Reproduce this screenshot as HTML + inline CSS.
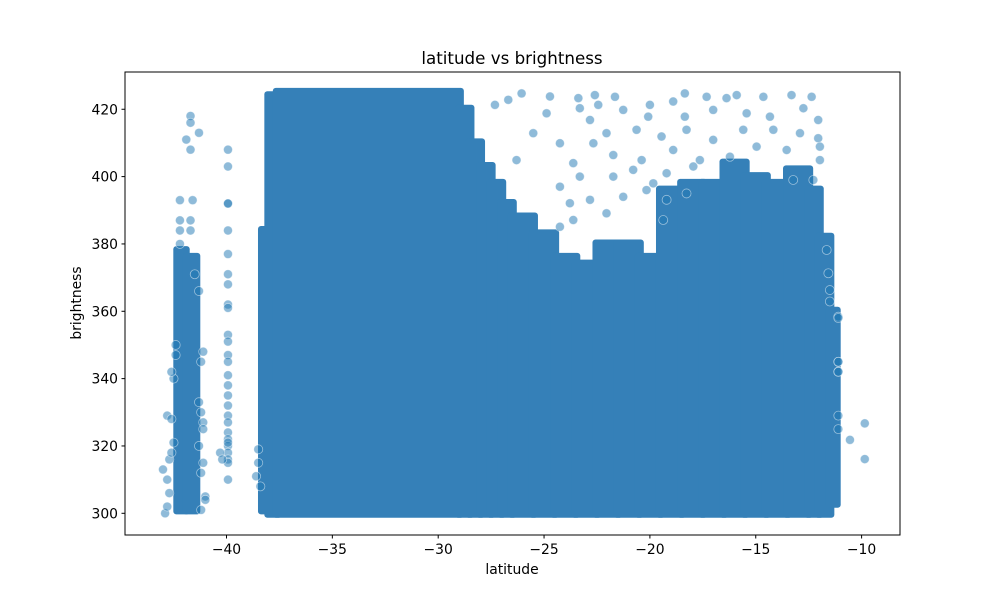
<!DOCTYPE html>
<html><head><meta charset="utf-8"><style>
body{margin:0;background:#fff;}
svg text{font-family:"DejaVu Sans","Liberation Sans",sans-serif;fill:#000;}
</style></head><body>
<svg id="chart" width="1000" height="600" viewBox="0 0 1000 600">
<rect width="1000" height="600" fill="#fff"/>
<text x="512" y="64" font-size="16.7" text-anchor="middle">latitude vs brightness</text>
<g id="dense"></g>
<g id="pts"></g>
<rect x="125" y="72" width="775" height="463" fill="none" stroke="#000" stroke-width="1"/>
<g id="xt"></g>
<g id="yt"></g>
<text x="512" y="574" font-size="13.9" text-anchor="middle">latitude</text>
<text transform="translate(81,303) rotate(-90)" font-size="13.9" text-anchor="middle">brightness</text>
</svg>
<script>
const xTicks=[-40,-35,-30,-25,-20,-15,-10];
const yTicks=[300,320,340,360,380,400,420];
// dense bands: latitude start, end, top brightness, bottom brightness
const denseLatStart=[-42.3,-41.85,-38.3,-38.0,-37.6,-29.0,-28.5,-28.0,-27.5,-27.0,-26.5,-25.5,-24.5,-23.5,-22.5,-21.5,-20.5,-19.5,-18.5,-17.5,-16.5,-15.5,-14.5,-13.5,-12.5,-12.0,-11.5];
const denseLatEnd=[-41.95,-41.45,-38.0,-37.6,-29.0,-28.5,-28.0,-27.5,-27.0,-26.5,-25.5,-24.5,-23.5,-22.5,-21.5,-20.5,-19.5,-18.5,-17.5,-16.5,-15.5,-14.5,-13.5,-12.5,-12.0,-11.5,-11.2];
const denseTop=[378,376,384,424,425,420,410,403,398,392,388,383,376,374,380,380,376,396,398,398,404,400,398,402,396,382,360];
const denseBottom=[301,301,301,300,300,300,300,300,300,300,300,300,300,300,300,300,300,300,300,300,300,300,300,300,300,300,303];
// sparse points
const ptLat=[-42.2,-42.2,-42.2,-42.2,-41.7,-41.7,-41.7,-41.6,-41.7,-41.7,-41.9,-41.3,-41.5,-41.3,
-43.0,-42.8,-42.6,-42.5,-42.6,-42.7,-42.8,-42.7,-42.9,-42.8,-42.5,-42.4,-42.4,-42.6,
-41.2,-41.1,-41.1,-41.3,-41.2,-41.1,-41.0,-41.2,-41.3,-41.1,-41.2,-41.0,
-39.93,-39.93,-39.93,-39.93,-39.93,-39.93,-39.93,-39.93,-39.93,-39.93,-39.93,-39.93,-39.93,-39.93,-39.93,-39.93,-39.93,-39.93,-39.93,-39.93,-39.93,-39.93,-39.93,-39.93,-39.93,-39.93,-39.93,-39.93,-40.3,-40.2,
-38.5,-38.6,-38.4,-38.5,
-26.06,-26.69,-24.72,-23.38,-22.60,-21.65,-20.00,-18.90,-18.35,-17.32,-16.38,-15.90,-14.64,-13.31,-12.36,-27.32,-24.88,-23.31,-22.44,-21.26,-20.08,-18.35,-17.01,-15.43,-14.33,-12.75,-25.51,-24.25,-22.83,-22.05,-20.63,-19.45,-18.27,-17.01,-15.59,-14.17,-12.91,-12.05,-12.05,-26.30,-23.62,-22.67,-21.73,-20.39,-18.90,-17.64,-16.22,-14.96,-13.54,-11.97,-11.97,-24.25,-23.31,-21.73,-20.79,-19.84,-19.21,-17.95,-13.23,-12.28,-23.78,-22.83,-21.26,-20.16,-19.21,-18.27,-11.65,-11.57,-11.10,-11.10,-11.10,-11.50,-11.50,-24.25,-22.05,-23.62,-19.37,
-11.1,-11.1,-11.1,-11.1,-11.1,-10.55,-9.85,-9.85];
const ptBri=[393,387,384,380,418,416,408,393,387,384,411,413,371,366,
313,329,328,340,342,316,310,306,300,302,321,347,350,318,
330,327,325,333,345,348,305,312,320,315,301,304,
408,403,392,392,384,377,371,368,362,361,353,351,347,345,341,338,335,332,329,327,324,322,320,318,316,315,310,321,318,316,
315,311,308,319,
424.7,422.8,423.8,423.3,424.2,423.7,421.3,422.3,424.7,423.7,423.3,424.2,423.7,424.2,423.7,421.3,418.8,420.3,421.3,419.8,417.8,417.8,419.8,418.8,417.8,420.3,412.9,409.9,416.8,412.9,413.9,411.9,413.9,410.9,413.9,413.9,412.9,416.8,411.4,404.9,404.0,409.9,406.4,404.9,407.9,404.9,405.9,408.9,407.9,404.9,408.9,397.0,400.0,400.0,402.0,398.0,401.0,403.0,399.0,399.0,392.1,393.1,394.0,396.0,393.1,395.0,378.2,371.3,358.4,345.0,342.1,366.3,362.9,385.1,389.1,387.1,387.1,
358,345,342,329,325,321.8,326.7,316.1];

const NS='http://www.w3.org/2000/svg';
const X=v=>226.5+(v+40)*21.17;
const Y=v=>513.3-(v-300)*3.367;
const R=4.5;
const dg=document.getElementById('dense');
for(let i=0;i<denseLatStart.length;i++){
  const r=document.createElementNS(NS,'rect');
  const x0=X(denseLatStart[i])-R,x1=X(denseLatEnd[i])+R,y0=Y(denseTop[i])-R,y1=Y(denseBottom[i])+R;
  r.setAttribute('x',x0);r.setAttribute('y',y0);r.setAttribute('width',x1-x0);r.setAttribute('height',y1-y0);
  r.setAttribute('rx',3);r.setAttribute('fill','#3580b8');
  
  
  dg.appendChild(r);
}
const pg=document.getElementById('pts');
for(let i=0;i<ptLat.length;i++){
  const c=document.createElementNS(NS,'circle');
  c.setAttribute('cx',X(ptLat[i]));c.setAttribute('cy',Y(ptBri[i]));c.setAttribute('r',R);
  c.setAttribute('fill','rgba(31,119,180,0.5)');c.setAttribute('stroke','rgba(255,255,255,0.5)');c.setAttribute('stroke-width','0.8');
  
  
  pg.appendChild(c);
}
const xg=document.getElementById('xt');
xTicks.forEach(t=>{
  const l=document.createElementNS(NS,'line');
  l.setAttribute('x1',X(t));l.setAttribute('x2',X(t));l.setAttribute('y1',535);l.setAttribute('y2',538.5);l.setAttribute('stroke','#000');
  
  
  xg.appendChild(l);
  const tx=document.createElementNS(NS,'text');
  tx.setAttribute('x',X(t));tx.setAttribute('y',554);tx.setAttribute('font-size','13.9');tx.setAttribute('text-anchor','middle');
  tx.textContent=String(t).replace('-','\u2212');
  
  
  xg.appendChild(tx);
});
const yg=document.getElementById('yt');
yTicks.forEach(t=>{
  const l=document.createElementNS(NS,'line');
  l.setAttribute('x1',121.5);l.setAttribute('x2',125);l.setAttribute('y1',Y(t));l.setAttribute('y2',Y(t));l.setAttribute('stroke','#000');
  
  
  yg.appendChild(l);
  const tx=document.createElementNS(NS,'text');
  tx.setAttribute('x',118);tx.setAttribute('y',Y(t)+5);tx.setAttribute('font-size','13.9');tx.setAttribute('text-anchor','end');
  tx.textContent=t;
  
  
  yg.appendChild(tx);
});
</script>
</body></html>
